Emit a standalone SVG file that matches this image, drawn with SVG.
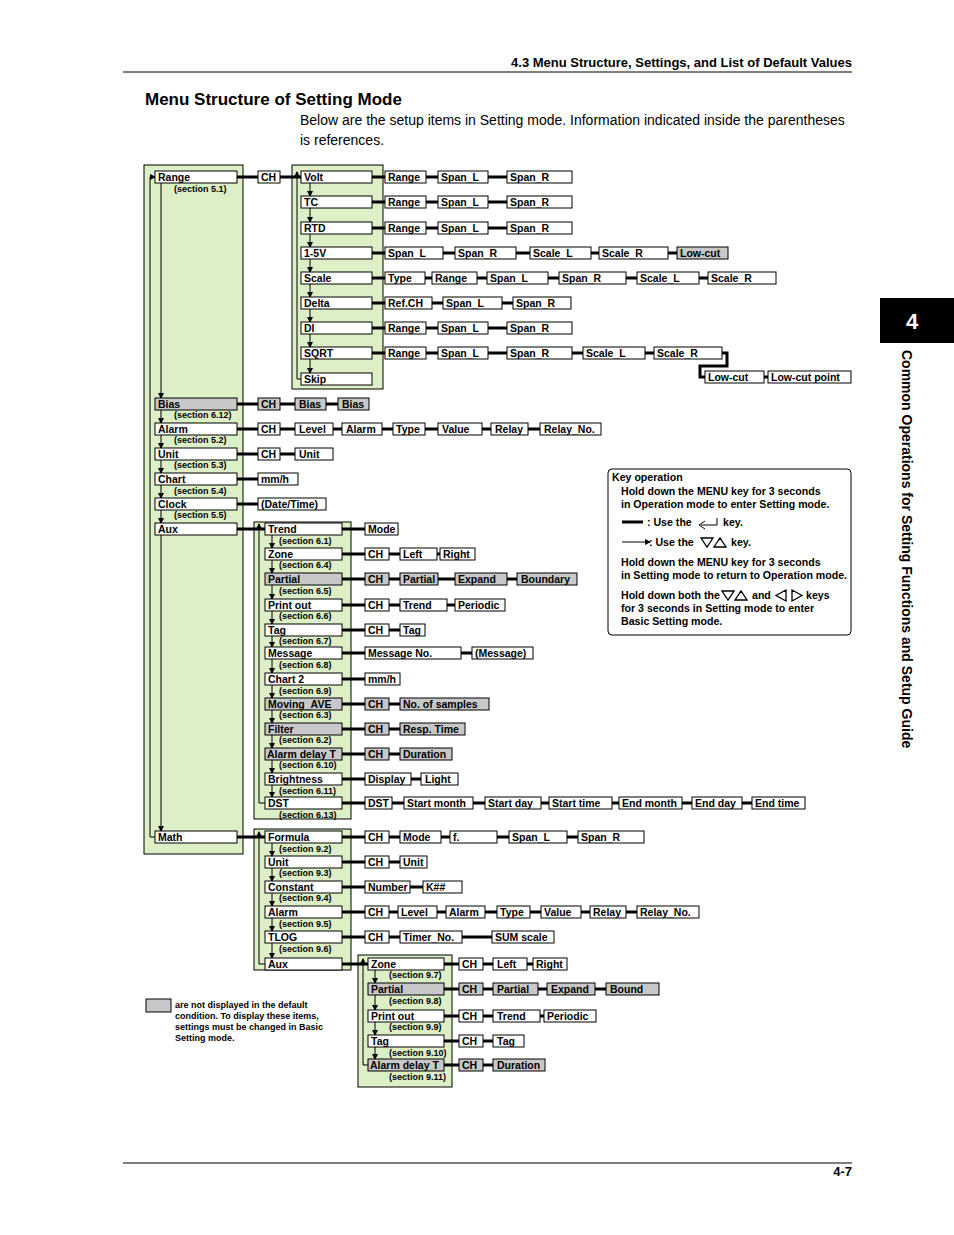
<svg xmlns="http://www.w3.org/2000/svg" width="954" height="1235" viewBox="0 0 954 1235">
<defs>
<marker id="ah" markerWidth="6" markerHeight="6" refX="5" refY="3" orient="auto" markerUnits="userSpaceOnUse"><path d="M0,0 L6,3 L0,6 Z" fill="#000"/></marker>
<style>
.p{fill:#dcefc6;stroke:#000;stroke-width:1}
.b{fill:#fff;stroke:#000;stroke-width:1}
.g{fill:#c8c8c8;stroke:#000;stroke-width:1}
text{font-family:"Liberation Sans",Arial,sans-serif;fill:#000}
.t{font-size:10.5px;font-weight:bold}
.s{font-size:9px;font-weight:bold}
.k{font-size:10.6px;font-weight:bold}
.th{fill:none;stroke:#000;stroke-width:3}
.ar{fill:none;stroke:#000;stroke-width:1;marker-end:url(#ah)}
.ln{fill:none;stroke:#000;stroke-width:1}
</style>
</defs>
<rect width="954" height="1235" fill="#fff"/>
<!-- header -->
<text x="852" y="67" text-anchor="end" style="font-size:13px;font-weight:bold">4.3  Menu Structure, Settings, and List of Default Values</text>
<line x1="123" y1="72" x2="852" y2="72" stroke="#000" stroke-width="1"/>
<text x="145" y="105" style="font-size:17px;font-weight:bold">Menu Structure of Setting Mode</text>
<text x="300" y="125" style="font-size:14px">Below are the setup items in Setting mode.  Information indicated inside the parentheses</text>
<text x="300" y="145" style="font-size:14px">is references.</text>
<rect x="880" y="298" width="74" height="45" fill="#000"/>
<text x="906" y="329" style="font-size:22px;font-weight:bold;fill:#fff">4</text>
<text transform="translate(902,350) rotate(90)" style="font-size:14px;font-weight:bold">Common Operations for Setting Functions and Setup Guide</text>
<line x1="123" y1="1163" x2="852" y2="1163" stroke="#000" stroke-width="1"/>
<text x="852" y="1176" text-anchor="end" style="font-size:13px;font-weight:bold">4-7</text>

<!-- panels -->
<g id="panels">
<rect class="p" x="144" y="165" width="99" height="689"/>
<rect class="p" x="292" y="165" width="91" height="224"/>
<rect class="p" x="254" y="522" width="97" height="297"/>
<rect class="p" x="254" y="829" width="97" height="141"/>
<rect class="p" x="358" y="955" width="94" height="132"/>
</g>

<!-- connectors -->
<g id="connectors">
<path class="th" d="M237,177H258M280,177H301M372,177H385M426,177H438M488,177H507
M372,202H385M426,202H438M488,202H507
M372,228H385M426,228H438M488,228H507
M372,253H385M443,253H455M516,253H530M591,253H599M668,253H677
M372,278H385M425,278H432M477,278H487M548,278H559M626,278H637M699,278H708
M372,303H385M432,303H443M502,303H513
M372,328H385M426,328H438M488,328H507
M372,353H385M426,353H438M488,353H507M572,353H583M645,353H654
M722,353H727V366H700V377H705M764,377H768
M237,404H258M280,404H295M326,404H338
M237,429H258M280,429H295M333,429H342M382,429H393M425,429H438M482,429H491M528,429H540
M237,454H258M280,454H295
M237,479H258
M237,504H258
M237,529H265
M342,529H365
M342,554H365M389,554H400M437,554H440
M342,579H365M389,579H400M438,579H455M507,579H517
M342,605H365M389,605H400M447,605H455
M342,630H365M389,630H400
M342,653H365M461,653H472
M342,679H365
M342,704H365M389,704H400
M342,729H365M389,729H400
M342,754H365M389,754H400
M342,779H365M411,779H421
M342,803H365M392,803H404M473,803H485M541,803H549M612,803H619M682,803H692M742,803H752
M237,837H265
M342,837H365M389,837H400M441,837H450M497,837H509M567,837H578
M342,862H365M389,862H400
M342,887H365M410,887H423
M342,912H365M389,912H398M437,912H446M485,912H497M530,912H541M581,912H590M626,912H637
M342,937H365M389,937H400M462,937H492
M342,964H368
M444,964H459M483,964H493M527,964H533
M444,989H459M483,989H493M538,989H547M595,989H606
M444,1016H459M483,1016H493M540,1016H544
M444,1041H459M483,1041H493
M444,1065H459M483,1065H493"/>
<path class="ar" d="M161,183V398"/>
<path class="ar" d="M161,410V423"/>
<path class="ar" d="M161,435V448"/>
<path class="ar" d="M161,460V473"/>
<path class="ar" d="M161,485V498"/>
<path class="ar" d="M161,510V523"/>
<path class="ar" d="M161,535V831"/>
<path class="ar" d="M155,837H150V177H155"/>
<path class="ar" d="M310,183V196"/><path class="ar" d="M310,208V222"/><path class="ar" d="M310,234V247"/>
<path class="ar" d="M310,259V272"/><path class="ar" d="M310,284V297"/><path class="ar" d="M310,309V322"/>
<path class="ar" d="M310,334V347"/><path class="ar" d="M310,359V373"/>
<path class="ar" d="M301,379H297V172"/>
<path class="ar" d="M272,535V548"/><path class="ar" d="M272,560V573"/><path class="ar" d="M272,585V599"/>
<path class="ar" d="M272,611V624"/><path class="ar" d="M272,636V647"/><path class="ar" d="M272,659V673"/>
<path class="ar" d="M272,685V698"/><path class="ar" d="M272,710V723"/><path class="ar" d="M272,735V748"/>
<path class="ar" d="M272,760V773"/><path class="ar" d="M272,785V797"/>
<path class="ar" d="M265,803H259V524"/>
<path class="ar" d="M272,843V856"/><path class="ar" d="M272,868V881"/><path class="ar" d="M272,893V906"/>
<path class="ar" d="M272,918V931"/><path class="ar" d="M272,943V958"/>
<path class="ar" d="M265,964H259V832"/>
<path class="ar" d="M375,970V983"/><path class="ar" d="M375,995V1010"/><path class="ar" d="M375,1022V1035"/>
<path class="ar" d="M375,1047V1059"/>
<path class="ar" d="M368,1065H363V959"/>
</g>

<g id="n-range"><rect class="b" x="155" y="171" width="82" height="12"/><text class="t" x="158" y="181">Range</text><text class="s" x="174" y="192">(section 5.1)</text></g>
<g id="n-bias"><rect class="g" x="155" y="398" width="82" height="12"/><text class="t" x="158" y="408">Bias</text><text class="s" x="174" y="418">(section 6.12)</text></g>
<g id="n-alarm"><rect class="b" x="155" y="423" width="82" height="12"/><text class="t" x="158" y="433">Alarm</text><text class="s" x="174" y="443">(section 5.2)</text></g>
<g id="n-unit"><rect class="b" x="155" y="448" width="82" height="12"/><text class="t" x="158" y="458">Unit</text><text class="s" x="174" y="468">(section 5.3)</text></g>
<g id="n-chart"><rect class="b" x="155" y="473" width="82" height="12"/><text class="t" x="158" y="483">Chart</text><text class="s" x="174" y="494">(section 5.4)</text></g>
<g id="n-clock"><rect class="b" x="155" y="498" width="82" height="12"/><text class="t" x="158" y="508">Clock</text><text class="s" x="174" y="518">(section 5.5)</text></g>
<g id="n-aux"><rect class="b" x="155" y="523" width="82" height="12"/><text class="t" x="158" y="533">Aux</text></g>
<g id="n-math"><rect class="b" x="155" y="831" width="82" height="12"/><text class="t" x="158" y="841">Math</text></g>

<g id="n-range-ch"><rect class="b" x="258" y="171" width="22" height="12"/><text class="t" x="261" y="181">CH</text></g>
<g id="n-volt"><rect class="b" x="301" y="171" width="71" height="12"/><text class="t" x="304" y="181">Volt</text></g>
<g id="n-tc"><rect class="b" x="301" y="196" width="71" height="12"/><text class="t" x="304" y="206">TC</text></g>
<g id="n-rtd"><rect class="b" x="301" y="222" width="71" height="12"/><text class="t" x="304" y="232">RTD</text></g>
<g id="n-15v"><rect class="b" x="301" y="247" width="71" height="12"/><text class="t" x="304" y="257">1-5V</text></g>
<g id="n-scale"><rect class="b" x="301" y="272" width="71" height="12"/><text class="t" x="304" y="282">Scale</text></g>
<g id="n-delta"><rect class="b" x="301" y="297" width="71" height="12"/><text class="t" x="304" y="307">Delta</text></g>
<g id="n-di"><rect class="b" x="301" y="322" width="71" height="12"/><text class="t" x="304" y="332">DI</text></g>
<g id="n-sqrt"><rect class="b" x="301" y="347" width="71" height="12"/><text class="t" x="304" y="357">SQRT</text></g>
<g id="n-skip"><rect class="b" x="301" y="373" width="71" height="12"/><text class="t" x="304" y="383">Skip</text></g>

<g id="r-volt">
<rect class="b" x="385" y="171" width="41" height="12"/><text class="t" x="388" y="181">Range</text>
<rect class="b" x="438" y="171" width="50" height="12"/><text class="t" x="441" y="181">Span_L</text>
<rect class="b" x="507" y="171" width="65" height="12"/><text class="t" x="510" y="181">Span_R</text></g>
<g id="r-tc">
<rect class="b" x="385" y="196" width="41" height="12"/><text class="t" x="388" y="206">Range</text>
<rect class="b" x="438" y="196" width="50" height="12"/><text class="t" x="441" y="206">Span_L</text>
<rect class="b" x="507" y="196" width="65" height="12"/><text class="t" x="510" y="206">Span_R</text></g>
<g id="r-rtd">
<rect class="b" x="385" y="222" width="41" height="12"/><text class="t" x="388" y="232">Range</text>
<rect class="b" x="438" y="222" width="50" height="12"/><text class="t" x="441" y="232">Span_L</text>
<rect class="b" x="507" y="222" width="65" height="12"/><text class="t" x="510" y="232">Span_R</text></g>
<g id="r-15v">
<rect class="b" x="385" y="247" width="58" height="12"/><text class="t" x="388" y="257">Span_L</text>
<rect class="b" x="455" y="247" width="61" height="12"/><text class="t" x="458" y="257">Span_R</text>
<rect class="b" x="530" y="247" width="61" height="12"/><text class="t" x="533" y="257">Scale_L</text>
<rect class="b" x="599" y="247" width="69" height="12"/><text class="t" x="602" y="257">Scale_R</text>
<rect class="g" x="677" y="247" width="51" height="12"/><text class="t" x="680" y="257">Low-cut</text></g>
<g id="r-scale">
<rect class="b" x="385" y="272" width="40" height="12"/><text class="t" x="388" y="282">Type</text>
<rect class="b" x="432" y="272" width="45" height="12"/><text class="t" x="435" y="282">Range</text>
<rect class="b" x="487" y="272" width="61" height="12"/><text class="t" x="490" y="282">Span_L</text>
<rect class="b" x="559" y="272" width="67" height="12"/><text class="t" x="562" y="282">Span_R</text>
<rect class="b" x="637" y="272" width="62" height="12"/><text class="t" x="640" y="282">Scale_L</text>
<rect class="b" x="708" y="272" width="68" height="12"/><text class="t" x="711" y="282">Scale_R</text></g>
<g id="r-delta">
<rect class="b" x="385" y="297" width="47" height="12"/><text class="t" x="388" y="307">Ref.CH</text>
<rect class="b" x="443" y="297" width="59" height="12"/><text class="t" x="446" y="307">Span_L</text>
<rect class="b" x="513" y="297" width="58" height="12"/><text class="t" x="516" y="307">Span_R</text></g>
<g id="r-di">
<rect class="b" x="385" y="322" width="41" height="12"/><text class="t" x="388" y="332">Range</text>
<rect class="b" x="438" y="322" width="50" height="12"/><text class="t" x="441" y="332">Span_L</text>
<rect class="b" x="507" y="322" width="65" height="12"/><text class="t" x="510" y="332">Span_R</text></g>
<g id="r-sqrt">
<rect class="b" x="385" y="347" width="41" height="12"/><text class="t" x="388" y="357">Range</text>
<rect class="b" x="438" y="347" width="50" height="12"/><text class="t" x="441" y="357">Span_L</text>
<rect class="b" x="507" y="347" width="65" height="12"/><text class="t" x="510" y="357">Span_R</text>
<rect class="b" x="583" y="347" width="62" height="12"/><text class="t" x="586" y="357">Scale_L</text>
<rect class="b" x="654" y="347" width="68" height="12"/><text class="t" x="657" y="357">Scale_R</text>
<rect class="b" x="705" y="371" width="59" height="12"/><text class="t" x="708" y="381">Low-cut</text>
<rect class="b" x="768" y="371" width="83" height="12"/><text class="t" x="771" y="381">Low-cut point</text></g>

<g id="r-bias">
<rect class="g" x="258" y="398" width="22" height="12"/><text class="t" x="261" y="408">CH</text>
<rect class="g" x="295" y="398" width="31" height="12"/><text class="t" x="299" y="408">Bias</text>
<rect class="g" x="338" y="398" width="31" height="12"/><text class="t" x="342" y="408">Bias</text></g>
<g id="r-alarm">
<rect class="b" x="258" y="423" width="22" height="12"/><text class="t" x="261" y="433">CH</text>
<rect class="b" x="295" y="423" width="38" height="12"/><text class="t" x="299" y="433">Level</text>
<rect class="b" x="342" y="423" width="40" height="12"/><text class="t" x="346" y="433">Alarm</text>
<rect class="b" x="393" y="423" width="32" height="12"/><text class="t" x="396" y="433">Type</text>
<rect class="b" x="438" y="423" width="44" height="12"/><text class="t" x="442" y="433">Value</text>
<rect class="b" x="491" y="423" width="37" height="12"/><text class="t" x="495" y="433">Relay</text>
<rect class="b" x="540" y="423" width="61" height="12"/><text class="t" x="544" y="433">Relay_No.</text></g>
<g id="r-unit">
<rect class="b" x="258" y="448" width="22" height="12"/><text class="t" x="261" y="458">CH</text>
<rect class="b" x="295" y="448" width="38" height="12"/><text class="t" x="299" y="458">Unit</text></g>
<g id="r-chart"><rect class="b" x="258" y="473" width="40" height="12"/><text class="t" x="261" y="483">mm/h</text></g>
<g id="r-clock"><rect class="b" x="258" y="498" width="68" height="12"/><text class="t" x="261" y="508">(Date/Time)</text></g>

<g id="n-trend"><rect class="b" x="265" y="523" width="77" height="12"/><text class="t" x="268" y="533">Trend</text><text class="s" x="279" y="544">(section 6.1)</text></g>
<g id="n-zone"><rect class="b" x="265" y="548" width="77" height="12"/><text class="t" x="268" y="558">Zone</text><text class="s" x="279" y="568">(section 6.4)</text></g>
<g id="n-partial"><rect class="g" x="265" y="573" width="77" height="12"/><text class="t" x="268" y="583">Partial</text><text class="s" x="279" y="594">(section 6.5)</text></g>
<g id="n-printout"><rect class="b" x="265" y="599" width="77" height="12"/><text class="t" x="268" y="609">Print out</text><text class="s" x="279" y="619">(section 6.6)</text></g>
<g id="n-tag"><rect class="b" x="265" y="624" width="77" height="12"/><text class="t" x="268" y="634">Tag</text><text class="s" x="279" y="644">(section 6.7)</text></g>
<g id="n-message"><rect class="b" x="265" y="647" width="77" height="12"/><text class="t" x="268" y="657">Message</text><text class="s" x="279" y="668">(section 6.8)</text></g>
<g id="n-chart2"><rect class="b" x="265" y="673" width="77" height="12"/><text class="t" x="268" y="683">Chart 2</text><text class="s" x="279" y="694">(section 6.9)</text></g>
<g id="n-moving"><rect class="g" x="265" y="698" width="77" height="12"/><text class="t" x="268" y="708">Moving_AVE</text><text class="s" x="279" y="718">(section 6.3)</text></g>
<g id="n-filter"><rect class="g" x="265" y="723" width="77" height="12"/><text class="t" x="268" y="733">Filter</text><text class="s" x="279" y="743">(section 6.2)</text></g>
<g id="n-alarmdelay"><rect class="g" x="265" y="748" width="77" height="12"/><text class="t" x="267" y="758">Alarm delay  T</text><text class="s" x="279" y="768">(section 6.10)</text></g>
<g id="n-bright"><rect class="b" x="265" y="773" width="77" height="12"/><text class="t" x="268" y="783">Brightness</text><text class="s" x="279" y="794">(section 6.11)</text></g>
<g id="n-dst"><rect class="b" x="265" y="797" width="77" height="12"/><text class="t" x="268" y="807">DST</text><text class="s" x="279" y="818">(section 6.13)</text></g>

<g id="r-trend"><rect class="b" x="365" y="523" width="33" height="12"/><text class="t" x="368" y="533">Mode</text></g>
<g id="r-zone">
<rect class="b" x="365" y="548" width="24" height="12"/><text class="t" x="368" y="558">CH</text>
<rect class="b" x="400" y="548" width="37" height="12"/><text class="t" x="403" y="558">Left</text>
<rect class="b" x="440" y="548" width="35" height="12"/><text class="t" x="443" y="558">Right</text></g>
<g id="r-partial">
<rect class="g" x="365" y="573" width="24" height="12"/><text class="t" x="368" y="583">CH</text>
<rect class="g" x="400" y="573" width="38" height="12"/><text class="t" x="403" y="583">Partial</text>
<rect class="g" x="455" y="573" width="52" height="12"/><text class="t" x="458" y="583">Expand</text>
<rect class="g" x="517" y="573" width="60" height="12"/><text class="t" x="521" y="583">Boundary</text></g>
<g id="r-printout">
<rect class="b" x="365" y="599" width="24" height="12"/><text class="t" x="368" y="609">CH</text>
<rect class="b" x="400" y="599" width="47" height="12"/><text class="t" x="403" y="609">Trend</text>
<rect class="b" x="455" y="599" width="50" height="12"/><text class="t" x="458" y="609">Periodic</text></g>
<g id="r-tag">
<rect class="b" x="365" y="624" width="24" height="12"/><text class="t" x="368" y="634">CH</text>
<rect class="b" x="400" y="624" width="25" height="12"/><text class="t" x="403" y="634">Tag</text></g>
<g id="r-message">
<rect class="b" x="365" y="647" width="96" height="12"/><text class="t" x="368" y="657">Message No.</text>
<rect class="b" x="472" y="647" width="61" height="12"/><text class="t" x="475" y="657">(Message)</text></g>
<g id="r-chart2"><rect class="b" x="365" y="673" width="35" height="12"/><text class="t" x="368" y="683">mm/h</text></g>
<g id="r-moving">
<rect class="g" x="365" y="698" width="24" height="12"/><text class="t" x="368" y="708">CH</text>
<rect class="g" x="400" y="698" width="89" height="12"/><text class="t" x="403" y="708">No. of samples</text></g>
<g id="r-filter">
<rect class="g" x="365" y="723" width="24" height="12"/><text class="t" x="368" y="733">CH</text>
<rect class="g" x="400" y="723" width="65" height="12"/><text class="t" x="403" y="733">Resp. Time</text></g>
<g id="r-alarmdelay">
<rect class="g" x="365" y="748" width="24" height="12"/><text class="t" x="368" y="758">CH</text>
<rect class="g" x="400" y="748" width="52" height="12"/><text class="t" x="403" y="758">Duration</text></g>
<g id="r-bright">
<rect class="b" x="365" y="773" width="46" height="12"/><text class="t" x="368" y="783">Display</text>
<rect class="b" x="421" y="773" width="37" height="12"/><text class="t" x="425" y="783">Light</text></g>
<g id="r-dst">
<rect class="b" x="365" y="797" width="27" height="12"/><text class="t" x="368" y="807">DST</text>
<rect class="b" x="404" y="797" width="69" height="12"/><text class="t" x="407" y="807">Start month</text>
<rect class="b" x="485" y="797" width="56" height="12"/><text class="t" x="488" y="807">Start day</text>
<rect class="b" x="549" y="797" width="63" height="12"/><text class="t" x="552" y="807">Start time</text>
<rect class="b" x="619" y="797" width="63" height="12"/><text class="t" x="622" y="807">End month</text>
<rect class="b" x="692" y="797" width="50" height="12"/><text class="t" x="695" y="807">End day</text>
<rect class="b" x="752" y="797" width="53" height="12"/><text class="t" x="755" y="807">End time</text></g>

<g id="n-formula"><rect class="b" x="265" y="831" width="77" height="12"/><text class="t" x="268" y="841">Formula</text><text class="s" x="279" y="852">(section 9.2)</text></g>
<g id="n-munit"><rect class="b" x="265" y="856" width="77" height="12"/><text class="t" x="268" y="866">Unit</text><text class="s" x="279" y="876">(section 9.3)</text></g>
<g id="n-constant"><rect class="b" x="265" y="881" width="77" height="12"/><text class="t" x="268" y="891">Constant</text><text class="s" x="279" y="901">(section 9.4)</text></g>
<g id="n-malarm"><rect class="b" x="265" y="906" width="77" height="12"/><text class="t" x="268" y="916">Alarm</text><text class="s" x="279" y="927">(section 9.5)</text></g>
<g id="n-tlog"><rect class="b" x="265" y="931" width="77" height="12"/><text class="t" x="268" y="941">TLOG</text><text class="s" x="279" y="952">(section 9.6)</text></g>
<g id="n-maux"><rect class="b" x="265" y="958" width="77" height="12"/><text class="t" x="268" y="968">Aux</text></g>

<g id="r-formula">
<rect class="b" x="365" y="831" width="24" height="12"/><text class="t" x="368" y="841">CH</text>
<rect class="b" x="400" y="831" width="41" height="12"/><text class="t" x="403" y="841">Mode</text>
<rect class="b" x="450" y="831" width="47" height="12"/><text class="t" x="453" y="841">f.</text>
<rect class="b" x="509" y="831" width="58" height="12"/><text class="t" x="512" y="841">Span_L</text>
<rect class="b" x="578" y="831" width="66" height="12"/><text class="t" x="581" y="841">Span_R</text></g>
<g id="r-munit">
<rect class="b" x="365" y="856" width="24" height="12"/><text class="t" x="368" y="866">CH</text>
<rect class="b" x="400" y="856" width="27" height="12"/><text class="t" x="403" y="866">Unit</text></g>
<g id="r-constant">
<rect class="b" x="365" y="881" width="45" height="12"/><text class="t" x="368" y="891">Number</text>
<rect class="b" x="423" y="881" width="39" height="12"/><text class="t" x="426" y="891">K##</text></g>
<g id="r-malarm">
<rect class="b" x="365" y="906" width="24" height="12"/><text class="t" x="368" y="916">CH</text>
<rect class="b" x="398" y="906" width="39" height="12"/><text class="t" x="401" y="916">Level</text>
<rect class="b" x="446" y="906" width="39" height="12"/><text class="t" x="449" y="916">Alarm</text>
<rect class="b" x="497" y="906" width="33" height="12"/><text class="t" x="500" y="916">Type</text>
<rect class="b" x="541" y="906" width="40" height="12"/><text class="t" x="544" y="916">Value</text>
<rect class="b" x="590" y="906" width="36" height="12"/><text class="t" x="593" y="916">Relay</text>
<rect class="b" x="637" y="906" width="62" height="12"/><text class="t" x="640" y="916">Relay_No.</text></g>
<g id="r-tlog">
<rect class="b" x="365" y="931" width="24" height="12"/><text class="t" x="368" y="941">CH</text>
<rect class="b" x="400" y="931" width="62" height="12"/><text class="t" x="403" y="941">Timer_No.</text>
<rect class="b" x="492" y="931" width="62" height="12"/><text class="t" x="495" y="941">SUM scale</text></g>

<g id="n-mzone"><rect class="b" x="368" y="958" width="76" height="12"/><text class="t" x="371" y="968">Zone</text><text class="s" x="389" y="978">(section 9.7)</text></g>
<g id="n-mpartial"><rect class="g" x="368" y="983" width="76" height="12"/><text class="t" x="371" y="993">Partial</text><text class="s" x="389" y="1004">(section 9.8)</text></g>
<g id="n-mprint"><rect class="b" x="368" y="1010" width="76" height="12"/><text class="t" x="371" y="1020">Print out</text><text class="s" x="389" y="1030">(section 9.9)</text></g>
<g id="n-mtag"><rect class="b" x="368" y="1035" width="76" height="12"/><text class="t" x="371" y="1045">Tag</text><text class="s" x="389" y="1056">(section 9.10)</text></g>
<g id="n-malarmdelay"><rect class="g" x="368" y="1059" width="76" height="12"/><text class="t" x="370" y="1069">Alarm delay  T</text><text class="s" x="389" y="1080">(section 9.11)</text></g>

<g id="r-mzone">
<rect class="b" x="459" y="958" width="24" height="12"/><text class="t" x="462" y="968">CH</text>
<rect class="b" x="493" y="958" width="34" height="12"/><text class="t" x="497" y="968">Left</text>
<rect class="b" x="533" y="958" width="34" height="12"/><text class="t" x="536" y="968">Right</text></g>
<g id="r-mpartial">
<rect class="g" x="459" y="983" width="24" height="12"/><text class="t" x="462" y="993">CH</text>
<rect class="g" x="493" y="983" width="45" height="12"/><text class="t" x="497" y="993">Partial</text>
<rect class="g" x="547" y="983" width="48" height="12"/><text class="t" x="551" y="993">Expand</text>
<rect class="g" x="606" y="983" width="53" height="12"/><text class="t" x="610" y="993">Bound</text></g>
<g id="r-mprint">
<rect class="b" x="459" y="1010" width="24" height="12"/><text class="t" x="462" y="1020">CH</text>
<rect class="b" x="493" y="1010" width="47" height="12"/><text class="t" x="497" y="1020">Trend</text>
<rect class="b" x="544" y="1010" width="52" height="12"/><text class="t" x="547" y="1020">Periodic</text></g>
<g id="r-mtag">
<rect class="b" x="459" y="1035" width="24" height="12"/><text class="t" x="462" y="1045">CH</text>
<rect class="b" x="493" y="1035" width="31" height="12"/><text class="t" x="497" y="1045">Tag</text></g>
<g id="r-malarmdelay">
<rect class="g" x="459" y="1059" width="24" height="12"/><text class="t" x="462" y="1069">CH</text>
<rect class="g" x="493" y="1059" width="52" height="12"/><text class="t" x="497" y="1069">Duration</text></g>

<g id="legend">
<rect class="g" x="146" y="999" width="25" height="13"/>
<text class="s" x="175" y="1008">are not displayed in the default</text>
<text class="s" x="175" y="1019">condition.  To display these items,</text>
<text class="s" x="175" y="1030">settings must be changed in Basic</text>
<text class="s" x="175" y="1041">Setting mode.</text>
</g>

<g id="keyop">
<rect x="608" y="469" width="243" height="166" rx="4" fill="#fff" stroke="#000" stroke-width="1"/>
<text class="k" x="612" y="481">Key operation</text>
<text class="k" x="621" y="495">Hold down the MENU key for 3 seconds</text>
<text class="k" x="621" y="508">in Operation mode to enter Setting mode.</text>
<line x1="622" y1="522" x2="643" y2="522" stroke="#000" stroke-width="3"/>
<text class="k" x="647" y="526">:  Use the</text>
<path d="M717,518V525H701M705,521L699,525L705,529" fill="none" stroke="#000" stroke-width="1"/>
<text class="k" x="723" y="526">key.</text>
<path class="ar" d="M622,542H650"/>
<text class="k" x="649" y="546">:  Use the</text>
<path d="M701,538H713L707,547Z M714,547H726L720,538Z" fill="none" stroke="#000" stroke-width="1.3"/>
<text class="k" x="731" y="546">key.</text>
<text class="k" x="621" y="566">Hold down the MENU key for 3 seconds</text>
<text class="k" x="621" y="579">in Setting mode to return to Operation mode.</text>
<text class="k" x="621" y="599">Hold down both the</text>
<path d="M722,591H734L728,600Z M735,600H747L741,591Z M786,590V601L776,595.5Z M792,590V601L802,595.5Z" fill="none" stroke="#000" stroke-width="1.3"/>
<text class="k" x="752" y="599">and</text>
<text class="k" x="806" y="599">keys</text>
<text class="k" x="621" y="612">for 3 seconds in Setting mode to enter</text>
<text class="k" x="621" y="625">Basic Setting mode.</text>
</g>
</svg>
